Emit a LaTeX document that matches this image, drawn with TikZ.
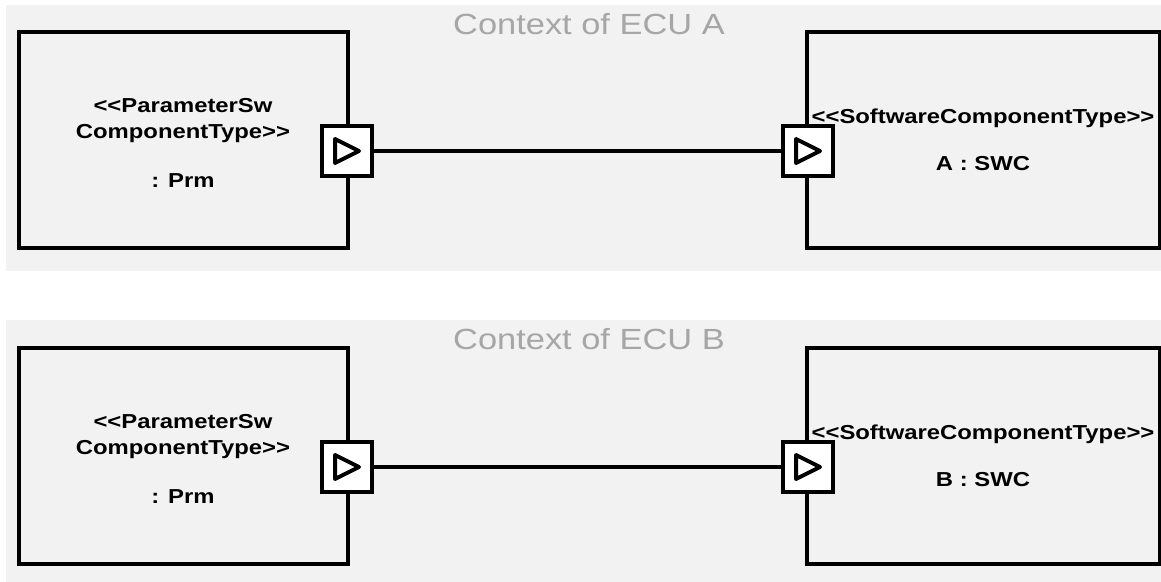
\documentclass[tikz,border=0pt]{standalone}
\usepackage{fontspec}
\setmainfont{Liberation Sans}[FakeStretch=1.18, Ligatures=TeXOff]
\usetikzlibrary{calc, positioning}
\definecolor{ctxbg}{HTML}{F2F2F2}
\definecolor{ctxtext}{HTML}{A6A6A6}

\begin{document}
\begin{tikzpicture}[x=0.02cm, y=-0.02cm,
  every node/.style={font=\bfseries\fontsize{11.5}{14.7}\selectfont},
  comp/.style={draw, line width=0.075cm, minimum width=6.58cm, minimum height=4.32cm, inner sep=0pt},
  port/.style={draw, fill=white, line width=0.075cm, minimum size=1cm, inner sep=0pt},
  porttri/.style={draw, fill=white, line width=0.08cm, line join=round},
  wire/.style={line width=0.07cm},
  ctxlabel/.style={font=\fontsize{16.6}{20}\selectfont, text=ctxtext, anchor=base},
  lbl/.style={anchor=base, inner sep=0pt}]
  \useasboundingbox (0,0) rectangle (1161,582);
  % context of ECU A
  \fill[ctxbg] (6,5) rectangle (1161,271);
  \node[ctxlabel] (ctxA) at (589,34) {Context of ECU A};
  \node[comp] (prmA) at (183.5,140) {};
  \node[comp, minimum width=7.06cm] (swcA) at (983.5,140) {};
  \node[lbl] (prmAst1) at (183,112) {<<ParameterSw};
  \node[lbl] (prmAst2) at (183,138) {ComponentType>>};
  \node[lbl] (prmAname) at (183,187) {: Prm};
  \node[lbl] (swcAst) at (983,123) {<<SoftwareComponentType>>};
  \node[lbl] (swcAname) at (983,170) {A : SWC};
  % ports
  \node[port] (outA) at (347,151) {};
  \node[port] (inA) at (808,151) {};
  \draw[porttri] ($(outA)+(-12,-12)$) -- ++(0,24) -- ++(24,-12) -- cycle;
  \draw[porttri] ($(inA)+(-12,-12)$) -- ++(0,24) -- ++(24,-12) -- cycle;
  \draw[wire] (outA) -- (inA);
  % context of ECU B
  \fill[ctxbg] (6,320) rectangle (1161,582);
  \node[ctxlabel] (ctxB) at (589,349) {Context of ECU B};
  \node[comp] (prmB) at (183.5,456) {};
  \node[comp, minimum width=7.06cm] (swcB) at (983.5,456) {};
  \node[lbl] (prmBst1) at (183,428) {<<ParameterSw};
  \node[lbl] (prmBst2) at (183,454) {ComponentType>>};
  \node[lbl] (prmBname) at (183,503) {: Prm};
  \node[lbl] (swcBst) at (983,439) {<<SoftwareComponentType>>};
  \node[lbl] (swcBname) at (983,486) {B : SWC};
  % ports
  \node[port] (outB) at (347,467) {};
  \node[port] (inB) at (808,467) {};
  \draw[porttri] ($(outB)+(-12,-12)$) -- ++(0,24) -- ++(24,-12) -- cycle;
  \draw[porttri] ($(inB)+(-12,-12)$) -- ++(0,24) -- ++(24,-12) -- cycle;
  \draw[wire] (outB) -- (inB);
\end{tikzpicture}
\end{document}
